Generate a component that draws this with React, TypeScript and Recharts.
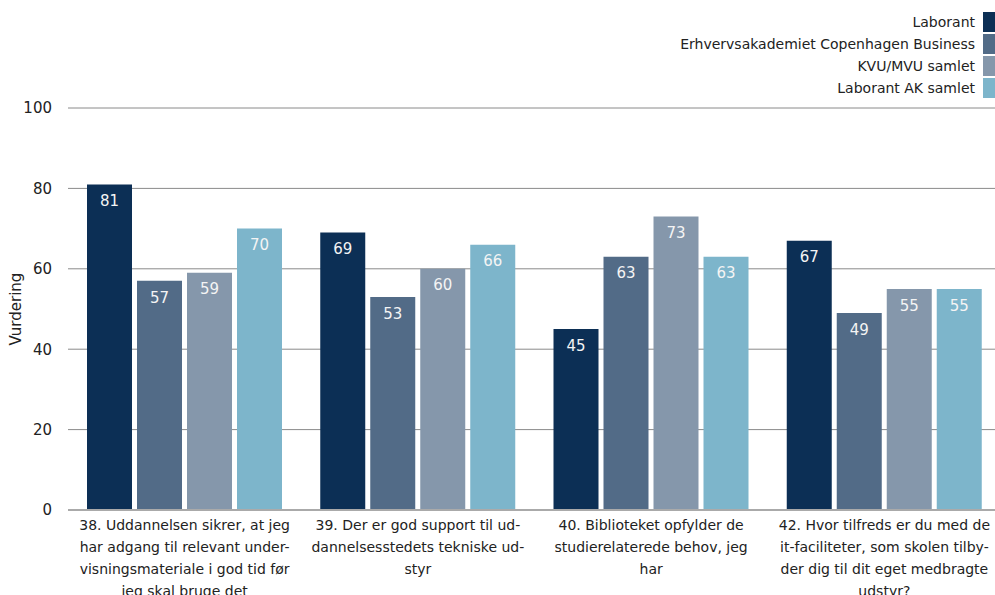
import { BarChart, Bar, XAxis, YAxis, CartesianGrid, LabelList } from "recharts";

// spørgsmål (linjeskift som i originalen)
const categories = [
  "38. Uddannelsen sikrer, at jeg\nhar adgang til relevant under-\nvisningsmateriale i god tid før\njeg skal bruge det",
  "39. Der er god support til ud-\ndannelsesstedets tekniske ud-\nstyr",
  "40. Biblioteket opfylder de\nstudierelaterede behov, jeg\nhar",
  "42. Hvor tilfreds er du med de\nit-faciliteter, som skolen tilby-\nder dig til dit eget medbragte\nudstyr?",
];

const seriesNames = [
  "Laborant",
  "Erhvervsakademiet Copenhagen Business",
  "KVU/MVU samlet",
  "Laborant AK samlet",
];
const colors = ["#0c2f55", "#526b87", "#8597ab", "#7db5cb"];

const laborant = [81, 69, 45, 67];
const erhverv = [57, 53, 63, 49];
const kvuMvu = [59, 60, 73, 55];
const laborantAk = [70, 66, 63, 55];

const yTicks = [0, 20, 40, 60, 80, 100];

const data = categories.map((name, i) => ({
  name,
  s0: laborant[i],
  s1: erhverv[i],
  s2: kvuMvu[i],
  s3: laborantAk[i],
}));

const FONT = "Tahoma, 'DejaVu Sans', sans-serif";

function WrappedTick(props: any) {
  const { x, y, payload } = props;
  const lines = String(payload.value).split("\n");
  return (
    <text
      x={x}
      y={y + 12}
      textAnchor="middle"
      fontFamily={FONT}
      fontSize={14}
      fill="#222"
    >
      {lines.map((l, i) => (
        <tspan key={i} x={x} dy={i === 0 ? 0 : 22}>
          {l}
        </tspan>
      ))}
    </text>
  );
}

function Legend() {
  return (
    <div
      style={{
        position: "absolute",
        right: 0,
        top: 12,
        fontFamily: FONT,
        fontSize: 14,
        color: "#222",
      }}
    >
      {seriesNames.map((n, i) => (
        <div
          key={n}
          style={{
            display: "flex",
            alignItems: "center",
            justifyContent: "flex-end",
            height: 20,
            marginBottom: 2,
          }}
        >
          <span style={{ marginRight: 8 }}>{n}</span>
          <span
            style={{
              display: "inline-block",
              width: 12,
              height: 20,
              background: colors[i],
            }}
          />
        </div>
      ))}
    </div>
  );
}

export default function App() {
  return (
    <div
      style={{
        position: "absolute",
        left: 0,
        top: 0,
        width: 995,
        height: 595,
        overflow: "hidden",
        background: "#fff",
      }}
    >
      <BarChart
        width={1003}
        height={595}
        data={data}
        margin={{ top: 108, right: 2, bottom: 0, left: 0 }}
        barGap={5}
        barCategoryGap={18}
      >
        <CartesianGrid vertical={false} stroke="#8a8a8a" strokeWidth={1} />
        <XAxis
          dataKey="name"
          interval={0}
          tickLine={false}
          axisLine={{ stroke: "#aaa", strokeWidth: 2 }}
          tick={<WrappedTick />}
          height={85}
        />
        <YAxis
          domain={[0, 100]}
          ticks={yTicks}
          width={68}
          axisLine={false}
          tickLine={false}
          tick={{ fontFamily: FONT, fontSize: 15, fill: "#222" }}
          tickMargin={10}
          label={{
            value: "Vurdering",
            angle: -90,
            position: "insideLeft",
            offset: 16,
            style: { fontFamily: FONT, fontSize: 15, fill: "#222", textAnchor: "middle" },
          }}
        />
        {["s0", "s1", "s2", "s3"].map((k, i) => (
          <Bar
            key={k}
            dataKey={k}
            name={seriesNames[i]}
            fill={colors[i]}
            barSize={45}
            isAnimationActive={false}
          >
            <LabelList
              dataKey={k}
              position="insideTop"
              offset={11}
              fill="#f4f4f4"
              style={{ fontFamily: FONT, fontSize: 15 }}
            />
          </Bar>
        ))}
      </BarChart>
      <Legend />
    </div>
  );
}
